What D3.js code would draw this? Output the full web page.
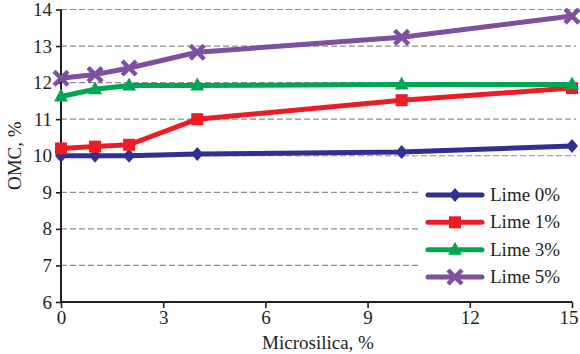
<!DOCTYPE html>
<html><head><meta charset="utf-8">
<script src="https://cdn.jsdelivr.net/npm/d3@7"></script>
<style>
body{margin:0;background:#fff}
svg{display:block}
svg text{font-family:"Liberation Serif","DejaVu Serif",serif;fill:#231f20}
</style>
</head><body>
<svg id="c" width="580" height="354"></svg>
<script>
const microsilica = [0, 1, 2, 4, 10, 15];
const lime0 = [10.0, 10.0, 10.0, 10.05, 10.1, 10.27];
const lime1 = [10.2, 10.25, 10.3, 11.0, 11.52, 11.85];
const lime3 = [11.62, 11.82, 11.92, 11.92, 11.95, 11.95];
const lime5 = [12.12, 12.22, 12.4, 12.83, 13.24, 13.82];
const seriesNames = ["Lime 0%", "Lime 1%", "Lime 3%", "Lime 5%"];
const xTicks = [0, 3, 6, 9, 12, 15];
const yTicks = [6, 7, 8, 9, 10, 11, 12, 13, 14];

const colors = ["#2e3192", "#ed1c24", "#00a651", "#7f4fa1"];
const shapes = ["diamond", "square", "triangle", "cross"];
const series = [lime0, lime1, lime3, lime5].map((v, i) => ({
  name: seriesNames[i], color: colors[i], shape: shapes[i],
  pts: microsilica.map((x, j) => ({x, y: v[j]}))
}));

const svg = d3.select("#c");
const x = d3.scaleLinear().domain([0, 15]).range([61, 572]);
const y = d3.scaleLinear().domain([6, 14]).range([302, 9.5]);

// dashed horizontal gridlines
svg.append("g").selectAll("line").data(yTicks.filter(d => d > 6)).join("line")
  .attr("x1", x(0)).attr("x2", 576)
  .attr("y1", d => y(d)).attr("y2", d => y(d))
  .attr("stroke", "#8c8c8c").attr("stroke-width", 1.2)
  .attr("stroke-dasharray", "6,3");

// legend background hides the grid behind it
svg.append("rect").attr("x", 418).attr("y", 180).attr("width", 160).attr("height", 112).attr("fill", "#fff");

// axes
const xAxis = svg.append("g").attr("transform", `translate(0,${y(6)})`)
  .call(d3.axisBottom(x).tickValues(xTicks).tickSize(6).tickPadding(3));
const yAxis = svg.append("g").attr("transform", `translate(${x(0)},0)`)
  .call(d3.axisLeft(y).tickValues(yTicks).tickSize(5).tickPadding(4));
[xAxis, yAxis].forEach(g => {
  g.attr("font-family", null).attr("font-size", null);
  g.select(".domain").attr("stroke", "#231f20").attr("stroke-width", 2);
  g.selectAll(".tick line").attr("stroke", "#231f20").attr("stroke-width", 1.6);
  g.selectAll("text").style("font-size", "19px").attr("fill", "#231f20");
});
yAxis.select(".domain").attr("d", `M0,${y(6)}V${y(14)}`);
xAxis.select(".domain").attr("d", `M${x(0)},0H${x(15)}`);
// keep the last x label inside the frame
xAxis.selectAll(".tick text").filter(d => d === 15).attr("text-anchor", "end").attr("dx", "6");

// axis titles
svg.append("text").attr("x", 318).attr("y", 349).attr("text-anchor", "middle")
  .style("font-size", "19px").text("Microsilica, %");
svg.append("text").attr("transform", `translate(21,${y(10)}) rotate(-90)`).attr("text-anchor", "middle")
  .style("font-size", "19px").text("OMC, %");

function marker(g, shape, color, cx, cy) {
  if (shape === "diamond") {
    g.append("path").attr("d", `M${cx},${cy-7}L${cx+6},${cy}L${cx},${cy+7}L${cx-6},${cy}Z`).attr("fill", color);
  } else if (shape === "square") {
    g.append("rect").attr("x", cx-6).attr("y", cy-6).attr("width", 12).attr("height", 12).attr("fill", color);
  } else if (shape === "triangle") {
    g.append("path").attr("d", `M${cx},${cy-8}L${cx+7},${cy+5}L${cx-7},${cy+5}Z`).attr("fill", color);
  } else {
    g.append("path").attr("d", `M${cx-7},${cy-7}L${cx+7},${cy+7}M${cx+7},${cy-7}L${cx-7},${cy+7}`)
      .attr("stroke", color).attr("stroke-width", 4.5);
  }
}

const line = d3.line().x(d => x(d.x)).y(d => y(d.y));
series.forEach(s => {
  const g = svg.append("g");
  g.append("path").datum(s.pts).attr("d", line).attr("fill", "none")
    .attr("stroke", s.color).attr("stroke-width", 5).attr("stroke-linejoin", "round");
  s.pts.forEach(p => marker(g, s.shape, s.color, x(p.x), y(p.y)));
});

// legend
const legendY = d3.scalePoint().domain(seriesNames).range([195, 277]);
series.forEach(s => {
  const ly = legendY(s.name);
  const g = svg.append("g");
  g.append("line").attr("x1", 428).attr("x2", 482).attr("y1", ly).attr("y2", ly)
    .attr("stroke", s.color).attr("stroke-width", 5).attr("stroke-linecap", "round");
  marker(g, s.shape, s.color, 455, ly);
  g.append("text").attr("x", 490).attr("y", ly + 6).style("font-size", "19px").text(s.name);
});
</script>
</body></html>
